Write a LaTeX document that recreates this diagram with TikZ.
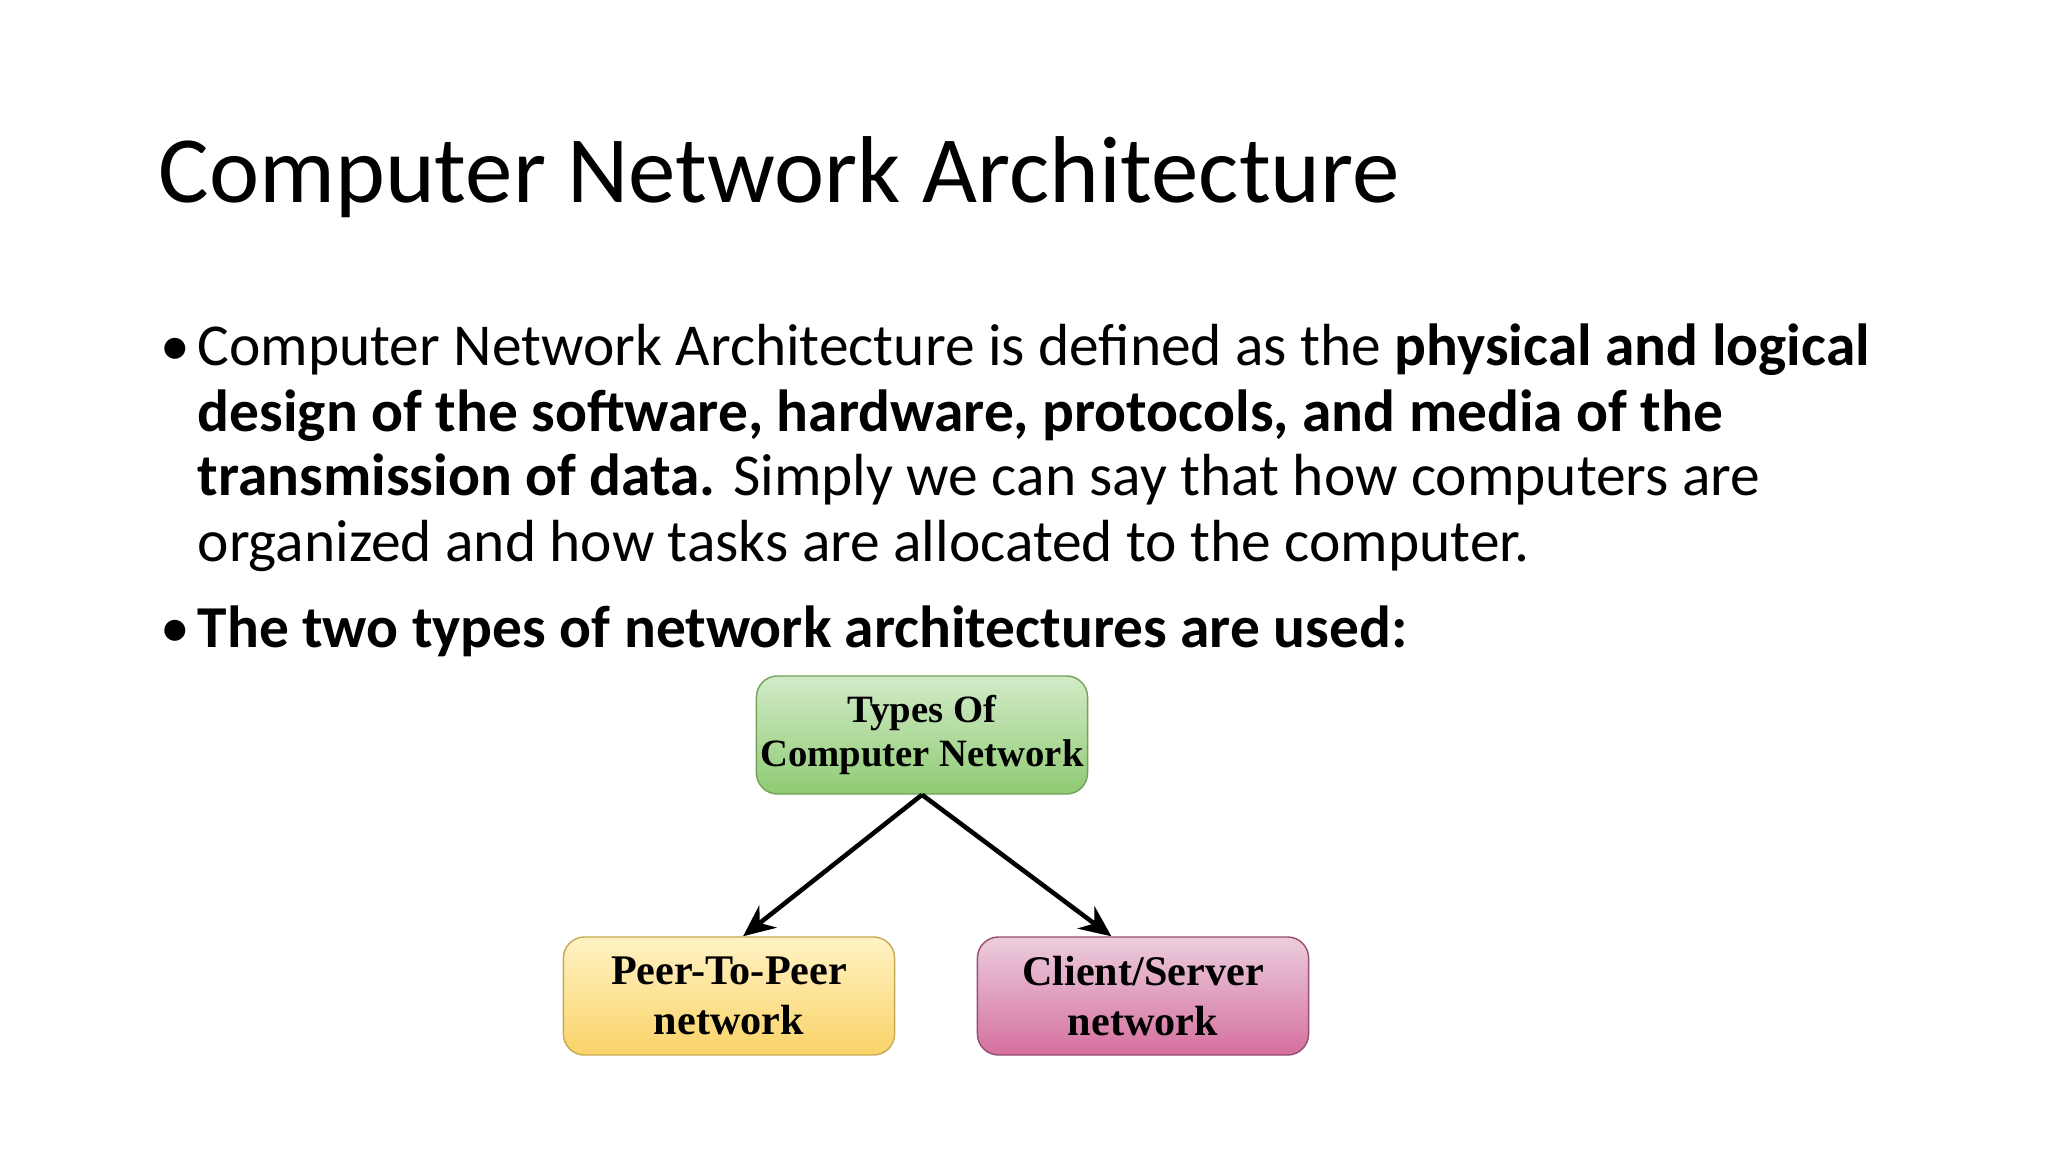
\documentclass[tikz,border=0pt]{standalone}
\usepackage{fontspec}
\setmainfont{Carlito}
\newfontfamily\boxfont{Liberation Serif}
\usetikzlibrary{arrows.meta}
\definecolor{greenTop}{HTML}{D2EBC8}
\definecolor{greenBot}{HTML}{8FCB73}
\definecolor{yellowTop}{HTML}{FFF2C4}
\definecolor{yellowBot}{HTML}{FAD368}
\definecolor{pinkTop}{HTML}{EBCDDD}
\definecolor{pinkBot}{HTML}{D56F9E}
\begin{document}
\begin{tikzpicture}[x=0.01cm,y=-0.01cm]

        \tikzstyle{line}=[anchor=base west,inner sep=0pt,font=\fontsize{16.9}{20}\selectfont]
        \tikzstyle{box}=[draw,rounded corners=6pt,minimum width=3.31cm,minimum height=1.18cm,align=center,inner sep=1pt,font=\boxfont\bfseries\fontsize{12}{14}\selectfont]

        \useasboundingbox (0,0) rectangle (2048,1152);

        \node[anchor=base west,inner sep=0pt,font=\fontsize{27}{32}\selectfont] (title) at (158,203) {Computer Network Architecture};

        \node[line] (b1) at (160,366) {\textbullet};
        \node[line] (l1) at (197,366) {Computer Network Architecture is defined as the \textbf{physical and logical}};
        \node[line] (l2) at (197,432) {\textbf{design of the software, hardware, protocols, and media of the}};
        \node[line] (l3) at (197,496) {\textbf{transmission of data.} Simply we can say that how computers are};
        \node[line] (l4) at (197,561) {organized and how tasks are allocated to the computer.};
        \node[line] (b2) at (160,647) {\textbullet};
        \node[line] (l5) at (197,647) {\textbf{The two types of network architectures are used:}};

        \node[box,draw=greenBot!80!black,top color=greenTop,bottom color=greenBot,font=\boxfont\bfseries\fontsize{11}{12.5}\selectfont] (types) at (922,735) {Types Of\\Computer Network};
        \node[box,draw=yellowBot!80!black,top color=yellowTop,bottom color=yellowBot] (p2p) at (729,996) {Peer-To-Peer\\network};
        \node[box,draw=pinkBot!70!black,top color=pinkTop,bottom color=pinkBot] (cs) at (1143,996) {Client/Server\\network};

        \draw[-{Stealth[length=9pt,width=8pt]},line width=1.3pt] (types.south) -- ([xshift=4pt]p2p.north);
        \draw[-{Stealth[length=9pt,width=8pt]},line width=1.3pt] (types.south) -- ([xshift=-9pt]cs.north);

\end{tikzpicture}
\end{document}
